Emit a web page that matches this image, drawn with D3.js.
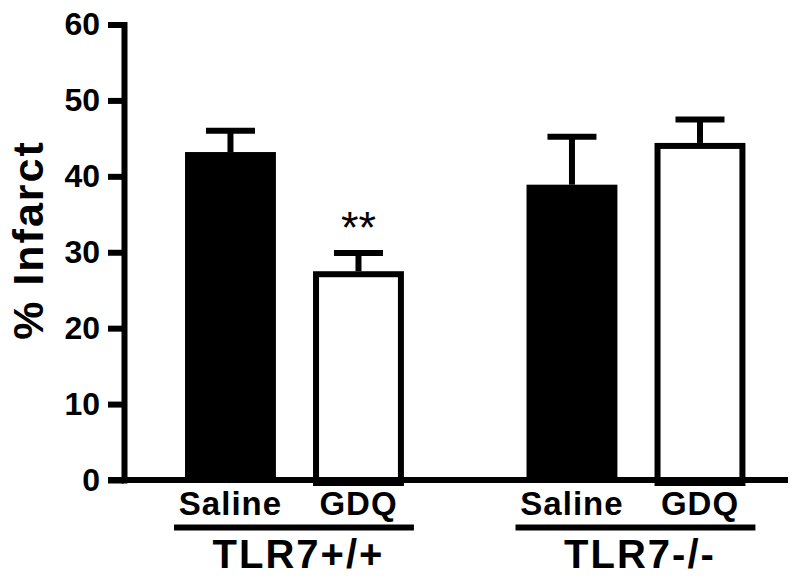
<html>
<meta charset="utf-8">
<head>
  <title>% Infarct</title>
</head>
<style>
body { margin: 0; background: #fff; }
text { font-family: "Liberation Sans", Arial, sans-serif; fill: #000; }
</style>
<body>
<svg width="800" height="581"></svg>
<script src="https://d3js.org/d3.v7.min.js"></script>
<script>
// data
var groups = ["TLR7+/+", "TLR7-/-"]
var treatments = ["Saline", "GDQ"]
var salineMean = [43.2, 38.9]
var salineSem = [2.8, 6.3]
var gdqMean = [27.5, 44.4]
var gdqSem = [2.4, 3.1]
var stars = [["", "**"], ["", ""]]
var yTicks = [0, 10, 20, 30, 40, 50, 60]

var rows = []
groups.forEach(function(g, i) {
  rows.push({group: g, treat: "Saline", mean: salineMean[i], sem: salineSem[i], star: stars[i][0]})
  rows.push({group: g, treat: "GDQ", mean: gdqMean[i], sem: gdqSem[i], star: stars[i][1]})
})

var svg = d3.select("svg")
var lw = 6

var y = d3.scaleLinear().domain([0, 60]).range([480, 24.5])

var x0 = d3.scaleBand().domain(groups).range([124, 788])
  .paddingInner(0.359).paddingOuter(0.1517).align(0.589)
var x1 = d3.scaleBand().domain(treatments).range([0, x0.bandwidth()])
  .paddingInner(0.29).paddingOuter(0)

function cx(d) { return x0(d.group) + x1(d.treat) + x1.bandwidth() / 2 }

// bars
svg.append("g").selectAll("rect")
  .data(rows)
  .enter().append("rect")
  .attr("x", function(d) { return x0(d.group) + x1(d.treat) + (d.treat == "GDQ" ? lw / 2 : 0) })
  .attr("width", function(d) { return x1.bandwidth() - (d.treat == "GDQ" ? lw : 0) })
  .attr("y", function(d) { return y(d.mean) + (d.treat == "GDQ" ? lw / 2 : 0) })
  .attr("height", function(d) { return y(0) - y(d.mean) })
  .attr("fill", function(d) { return d.treat == "Saline" ? "#000" : "#fff" })
  .attr("stroke", function(d) { return d.treat == "Saline" ? "none" : "#000" })
  .attr("stroke-width", lw)

// error bars (upper only)
var eb = svg.append("g").selectAll("g").data(rows).enter().append("g")
eb.append("line")
  .attr("x1", cx).attr("x2", cx)
  .attr("y1", function(d) { return y(d.mean) })
  .attr("y2", function(d) { return y(d.mean + d.sem) })
  .attr("stroke", "#000").attr("stroke-width", lw)
eb.append("line")
  .attr("x1", function(d) { return cx(d) - 24.5 })
  .attr("x2", function(d) { return cx(d) + 24.5 })
  .attr("y1", function(d) { return y(d.mean + d.sem) })
  .attr("y2", function(d) { return y(d.mean + d.sem) })
  .attr("stroke", "#000").attr("stroke-width", lw)

// significance stars
svg.append("g").selectAll("text")
  .data(rows.filter(function(d) { return d.star }))
  .enter().append("text")
  .attr("x", cx)
  .attr("y", function(d) { return y(d.mean + d.sem) - 10 })
  .attr("text-anchor", "middle")
  .style("font-size", "45px")
  .text(function(d) { return d.star })

// y axis
var yAxis = svg.append("g")
  .attr("transform", "translate(124,0)")
  .call(d3.axisLeft(y).tickValues(yTicks).tickSize(16).tickSizeOuter(0).tickPadding(8))
yAxis.select(".domain").attr("stroke-width", lw).attr("stroke-linecap", "square")
yAxis.selectAll(".tick line").attr("stroke-width", lw)
yAxis.selectAll("text")
  .style("font-size", "32px").style("font-weight", "bold")
  .attr("font-family", null)

// x baseline
svg.append("line")
  .attr("x1", 108).attr("x2", x0.range()[1])
  .attr("y1", y(0)).attr("y2", y(0))
  .attr("stroke", "#000").attr("stroke-width", lw)

// treatment labels
svg.append("g").selectAll("text")
  .data(rows)
  .enter().append("text")
  .attr("x", cx)
  .attr("y", 515)
  .attr("text-anchor", "middle")
  .style("font-size", "33px").style("font-weight", "bold")
  .style("letter-spacing", "1px")
  .text(function(d) { return d.treat })

// group underline + label
var gl = svg.append("g").selectAll("g").data(groups).enter().append("g")
gl.append("line")
  .attr("x1", function(g) { return x0(g) - 11 })
  .attr("x2", function(g) { return x0(g) + x0.bandwidth() + 10 })
  .attr("y1", 527.5).attr("y2", 527.5)
  .attr("stroke", "#000").attr("stroke-width", lw)
gl.append("text")
  .attr("x", function(g) { return x0(g) + x0.bandwidth() / 2 + 4 })
  .attr("y", 568)
  .attr("text-anchor", "middle")
  .style("font-size", "40px").style("font-weight", "bold")
  .style("letter-spacing", "2px")
  .text(function(g) { return g })

// y title
svg.append("text")
  .attr("transform", "translate(43,240) rotate(-90)")
  .attr("text-anchor", "middle")
  .style("font-size", "43px").style("font-weight", "bold")
  .style("letter-spacing", "2px")
  .text("% Infarct")
</script>
</body>
</html>
